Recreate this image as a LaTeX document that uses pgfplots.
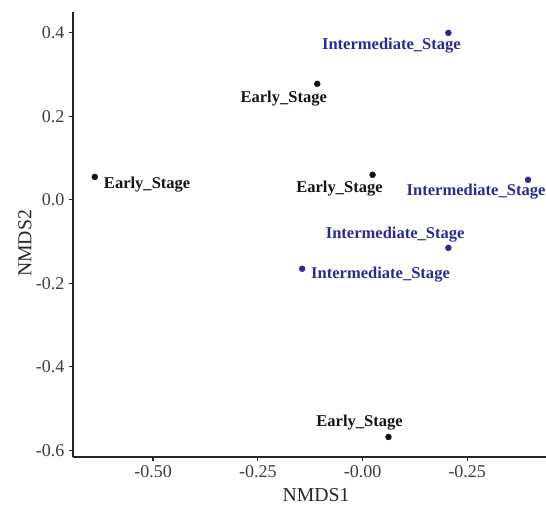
\documentclass[border=0pt]{standalone}
\usepackage{pgfplots}
\pgfplotsset{compat=1.18}
\usepackage{fontspec}
\setmainfont{Liberation Serif}
\definecolor{early}{RGB}{20,20,20}
\definecolor{inter}{RGB}{42,44,140}
\definecolor{ticktext}{RGB}{60,60,60}
\begin{document}
\begin{tikzpicture}
\path[use as bounding box] (-54.75pt,-35.25pt) rectangle (354.75pt,342.75pt);
\begin{axis}[
  scale only axis,
  width=354.75pt, height=333.75pt,
  xmin=-0.691, xmax=0.438, ymin=-0.616, ymax=0.450,
  axis x line*=bottom, axis y line*=left,
  axis line style={line width=1.1pt, black!85, -},
  tick align=outside, major tick length=3pt,
  tick style={line width=0.8pt, black!85},
  xtick={-0.5,-0.25,0,0.25},
  xticklabels={-0.50,-0.25,-0.00,-0.25},
  ytick={-0.6,-0.4,-0.2,0,0.2,0.4},
  yticklabels={-0.6,-0.4,-0.2,0.0,0.2,0.4},
  /pgf/number format/assume math mode=true,
  ticklabel style={font=\fontsize{13.5}{15}\selectfont, text=ticktext},
  xlabel={NMDS1}, ylabel={NMDS2},
  label style={font=\fontsize{14.8}{17}\selectfont, text=black!85},
  xlabel style={at={(axis description cs:0.514,0)}, anchor=center, yshift=-28.5pt},
  ylabel style={at={(axis description cs:0,0.48)}, anchor=center, yshift=36pt},
  clip=false,
]
\addplot[only marks, mark=*, mark size=2.2pt, color=early] coordinates {
  (-0.639,0.055) (-0.108,0.278) (0.024,0.060) (0.062,-0.568)
};
\addplot[only marks, mark=*, mark size=2.2pt, color=inter] coordinates {
  (0.205,0.400) (0.395,0.048) (0.205,-0.115) (-0.144,-0.165)
};
\begin{scope}[every node/.style={font=\fontsize{12.4}{14}\selectfont\bfseries}]
\node[text=early] at (axis cs:-0.514,0.036) {Early\_Stage};
\node[text=early] at (axis cs:-0.188,0.242) {Early\_Stage};
\node[text=early] at (axis cs:-0.055,0.027) {Early\_Stage};
\node[text=early] at (axis cs:-0.007,-0.534) {Early\_Stage};
\node[text=inter] at (axis cs:0.069,0.369) {Intermediate\_Stage};
\node[text=inter] at (axis cs:0.271,0.021) {Intermediate\_Stage};
\node[text=inter] at (axis cs:0.078,-0.083) {Intermediate\_Stage};
\node[text=inter] at (axis cs:0.043,-0.179) {Intermediate\_Stage};
\end{scope}
\end{axis}
\end{tikzpicture}
\end{document}
